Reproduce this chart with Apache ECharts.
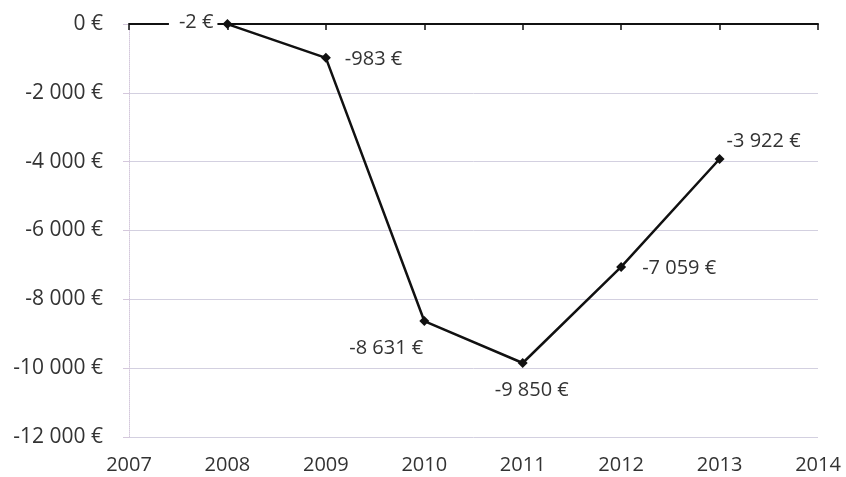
<!DOCTYPE html>
<html>
<head>
<meta charset="utf-8">
<script src="https://cdn.jsdelivr.net/npm/echarts@6/dist/echarts.min.js"></script>
<style>html,body{margin:0;padding:0;background:#fff}#c{width:846px;height:477px}</style>
</head>
<body>
<div id="c"></div>
<script>
var years = [2008, 2009, 2010, 2011, 2012, 2013];
var values = [-2, -983, -8631, -9850, -7059, -3922];
var xTicks = [2007, 2008, 2009, 2010, 2011, 2012, 2013, 2014];
var yTicks = [0, -2000, -4000, -6000, -8000, -10000, -12000];

function fmt(v) {
  var s = Math.abs(Math.round(v)).toString();
  var out = s.replace(/\B(?=(\d{3})+(?!\d))/g, ' ');
  return (v < 0 ? '-' : '') + out + ' €';
}

var labelCfg = [
  {position: 'left', distance: 5, offset: [0, -2], backgroundColor: '#fff', padding: [0, 4, 0, 10]},
  {position: 'right', distance: 14, offset: [0, 1]},
  {position: 'bottom', distance: 5, offset: [-38, 7]},
  {position: 'bottom', distance: 5, offset: [9, 7]},
  {position: 'right', distance: 16, offset: [0, 1]},
  {position: 'right', distance: 2, offset: [0, -18]}
];

var data = years.map(function (y, i) {
  return {value: [y, values[i]], label: labelCfg[i]};
});

var font = '"Open Sans", "Noto Sans", sans-serif';
var chart = echarts.init(document.getElementById('c'), null, {renderer: 'canvas'});
chart.setOption({
  animation: false,
  backgroundColor: '#fff',
  grid: {left: 129, right: 28, top: 24, bottom: 40, containLabel: false},
  xAxis: [{
    type: 'value', position: 'bottom', min: xTicks[0], max: xTicks[xTicks.length - 1], interval: 1,
    axisLine: {show: false, onZero: false},
    axisTick: {show: false},
    splitLine: {show: false},
    axisLabel: {color: '#333', fontSize: 20, fontFamily: font, margin: 18, formatter: function (v) { return String(v); }}
  }, {
    type: 'value', position: 'top', min: xTicks[0], max: xTicks[xTicks.length - 1], interval: 1,
    axisLine: {show: true, onZero: false, lineStyle: {color: '#111', width: 2}},
    axisTick: {show: true, inside: true, length: 6, lineStyle: {color: '#111', width: 1.5}},
    splitLine: {show: false},
    axisLabel: {show: false}
  }],
  yAxis: {
    type: 'value', min: yTicks[yTicks.length - 1], max: yTicks[0], interval: 2000,
    axisLine: {show: true, onZero: false, lineStyle: {color: '#d4c8dc', width: 1, type: 'dotted'}},
    axisTick: {show: true, length: 6, lineStyle: {color: '#d4c8dc'}},
    splitLine: {show: true, lineStyle: {color: '#d3d0e0', width: 1}},
    axisLabel: {color: '#333', fontSize: 21, fontFamily: font, margin: 26, formatter: fmt}
  },
  series: [{
    type: 'line',
    xAxisIndex: 0,
    data: data,
    symbol: 'diamond',
    symbolSize: 10,
    lineStyle: {color: '#111', width: 2.5},
    itemStyle: {color: '#111'},
    z: 5,
    label: {show: true, color: '#333', fontSize: 20, fontFamily: font,
      formatter: function (p) { return fmt(p.value[1]); }}
  }]
});
</script>
</body>
</html>
